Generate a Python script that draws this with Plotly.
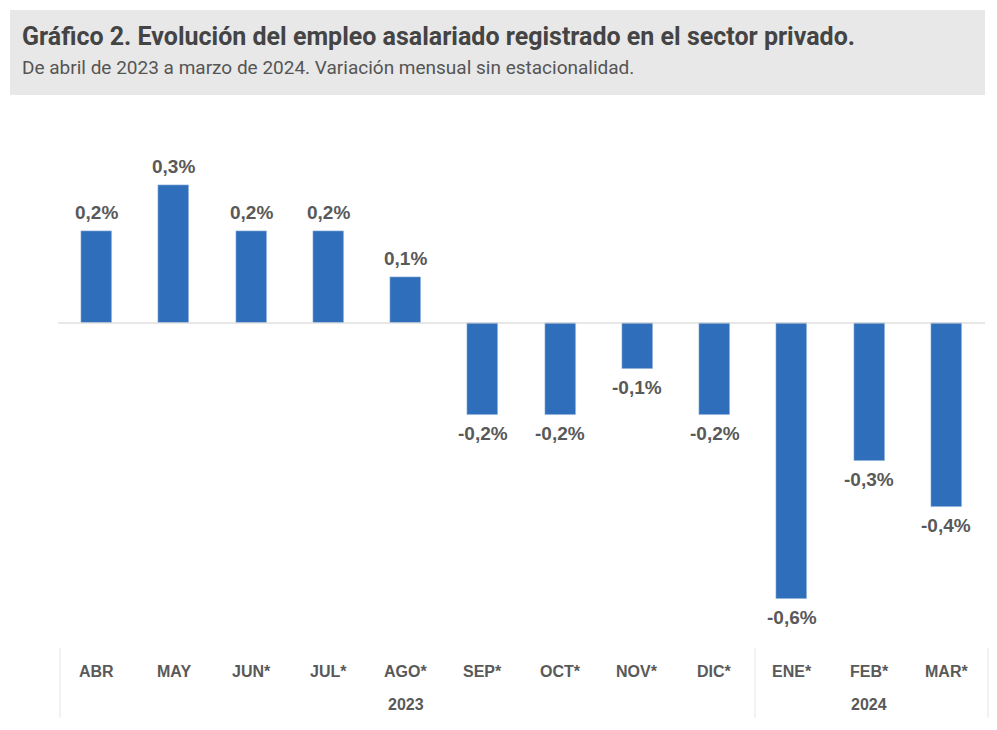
import plotly.graph_objects as go

months = ["ABR","MAY","JUN*","JUL*","AGO*","SEP*","OCT*","NOV*","DIC*","ENE*","FEB*","MAR*"]
values = [0.2,0.3,0.2,0.2,0.1,-0.2,-0.2,-0.1,-0.2,-0.6,-0.3,-0.4]
labels = ["0,2%","0,3%","0,2%","0,2%","0,1%","-0,2%","-0,2%","-0,1%","-0,2%","-0,6%","-0,3%","-0,4%"]
years = [("2023", 4), ("2024", 10)]

W, H = 997, 730
O = 8  # page offset
L, R, T, B = 58 - O, 12 + O, 110 - O, 100 + O
pw, ph = W - L - R, H - T - B
def px(x): return (x - O - L) / pw
def py(y): return (H - B - (y - O)) / ph

font = "Liberation Sans Narrow, Arial Narrow, Liberation Sans, Arial"
gray = "#595959"

fig = go.Figure(go.Bar(
    x=list(range(12)), y=values, width=0.4, marker_color="#2F6EBA",
))

shapes = [
    dict(type="rect", xref="paper", yref="paper", x0=px(10), x1=px(985), y0=py(95), y1=py(10),
         fillcolor="#E8E8E8", line_width=0, layer="below"),
    dict(type="line", xref="paper", yref="y", x0=0, x1=1, y0=0, y1=0, line=dict(color="#D0D0D0", width=1)),
]
for xx in [60, 755, 988]:
    shapes.append(dict(type="line", xref="paper", yref="paper", x0=px(xx), x1=px(xx), y0=py(648), y1=py(718),
                       line=dict(color="#E6E6E6", width=1)))

ann = [
    dict(text="<b>Gráfico 2. Evolución del empleo asalariado registrado en el sector privado.</b>",
         xref="paper", yref="paper", x=px(20), y=py(36), xanchor="left", yanchor="middle", showarrow=False,
         font=dict(family="Roboto, Liberation Sans", size=25, color="#444444")),
    dict(text="De abril de 2023 a marzo de 2024. Variación mensual sin estacionalidad.",
         xref="paper", yref="paper", x=px(20), y=py(67), xanchor="left", yanchor="middle", showarrow=False,
         font=dict(family="Roboto, Liberation Sans", size=19, color="#555555")),
]
for i, (v, t) in enumerate(zip(values, labels)):
    ann.append(dict(text=f"<b>{t}</b>", x=i, y=v, xref="x", yref="y", showarrow=False,
                    yanchor="bottom" if v > 0 else "top", yshift=6 if v > 0 else -6,
                    font=dict(family=font, size=19, color=gray)))
for i, m in enumerate(months):
    ann.append(dict(text=f"<b>{m}</b>", x=i, xref="x", yref="paper", y=py(671), yanchor="middle",
                    showarrow=False, font=dict(family=font, size=16, color=gray)))
for yl, c in years:
    ann.append(dict(text=f"<b>{yl}</b>", x=c, xref="x", yref="paper", y=py(704), yanchor="middle",
                    showarrow=False, font=dict(family=font, size=16, color=gray)))

fig.update_layout(
    width=W, height=H, margin=dict(l=L, r=R, t=T, b=B),
    plot_bgcolor="white", paper_bgcolor="white", showlegend=False,
    xaxis=dict(range=[-0.5, 11.5], visible=False),
    yaxis=dict(range=[-(H - B - (323 - O)) / 460, ((323 - O) - T) / 460], visible=False),
    shapes=shapes, annotations=ann, bargap=0,
)
fig.write_html("out.html")
